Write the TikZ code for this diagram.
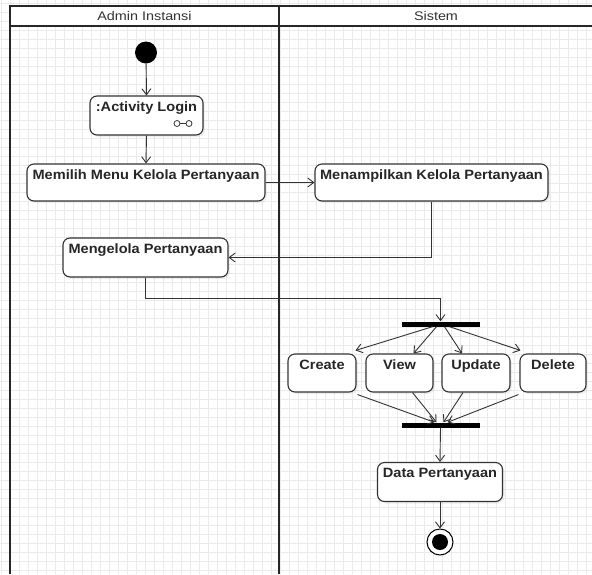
\documentclass[tikz,border=0pt]{standalone}
\usepackage{fontspec}
\setmainfont{Liberation Sans}
\newfontfamily\widebold{Liberation Sans}[FakeStretch=1.08]
\newfontfamily\widehead{Liberation Sans}[FakeStretch=1.15]
\usetikzlibrary{arrows.meta,shadows}

\definecolor{edgecol}{HTML}{333333}
\definecolor{gridcol}{HTML}{EAEAEA}

\tikzset{
  gridline/.style={draw=gridcol, line width=0.6pt},
  frameline/.style={draw=black!85, line width=1.6pt},
  headtext/.style={font=\widehead\fontsize{12.5}{14}\selectfont, text=black!80},
  actbox/.style={draw=edgecol, line width=1.1pt, fill=white, rounded corners=7pt,
    drop shadow={opacity=0.12, shadow xshift=2pt, shadow yshift=-2pt}, inner sep=0pt},
  boxtext/.style={anchor=north, inner sep=0pt, yshift=-6.5pt,
    font=\widebold\fontsize{13.5}{15}\selectfont\bfseries, text=black!85},
  bar/.style={fill=black, draw=none, minimum width=78pt, minimum height=5pt, inner sep=0pt},
  flow/.style={draw=edgecol, line width=0.9pt, -{Straight Barb[length=6pt,width=9pt,line width=0.9pt]}},
}

\begin{document}
\begin{tikzpicture}[x=1pt, y=-1pt]
  \useasboundingbox (0,0) rectangle (592,574);
  \fill[white] (0,0) rectangle (592,574);

  % background grid
  \foreach \i in {0,...,66} {
    \draw[gridline] (\i*9+1,0) -- (\i*9+1,574);
  }
  \foreach \j in {0,...,64} {
    \draw[gridline] (0,\j*9+3) -- (592,\j*9+3);
  }

  % swimlanes
  \fill[white] (10,6) rectangle (592,26);
  \draw[frameline] (10,574) -- (10,6) -- (593,6);
  \draw[frameline] (10,26) -- (593,26);
  \draw[frameline] (279,6) -- (279,574);
  \node[headtext] (laneA) at (144.5,16) {Admin Instansi};
  \node[headtext] (laneB) at (436,16) {Sistem};

  % initial state
  \node[circle, fill=black, minimum size=22pt, inner sep=0pt] (start) at (146,52.5) {};

  % activities
  \node[actbox, minimum width=113pt, minimum height=39pt] (login) at (146.5,115.5) {};
  \node[boxtext] (loginT) at (login.north) {:Activity Login};
  \coordinate (ic1) at (177,123.5);
  \coordinate (ic2) at (189,123.5);
  \draw[edgecol, line width=0.8pt] (ic1) -- (ic2);
  \draw[edgecol, line width=0.8pt, fill=white] (ic1) circle (3pt) (ic2) circle (3pt);

  \node[actbox, minimum width=238pt, minimum height=37pt] (memilih) at (146,182.5) {};
  \node[boxtext] (memilihT) at (memilih.north) {Memilih Menu Kelola Pertanyaan};

  \node[actbox, minimum width=233pt, minimum height=37pt] (tampil) at (431.5,182.5) {};
  \node[boxtext] (tampilT) at (tampil.north) {Menampilkan Kelola Pertanyaan};

  \node[actbox, minimum width=165pt, minimum height=39pt] (kelola) at (145.5,257.5) {};
  \node[boxtext] (kelolaT) at (kelola.north) {Mengelola Pertanyaan};

  \node[bar] (fork) at (440.5,324) {};

  \node[actbox, minimum width=68pt, minimum height=38pt] (create) at (322,373) {};
  \node[boxtext] (createT) at (create.north) {Create};
  \node[actbox, minimum width=67pt, minimum height=38pt] (view) at (399.5,373) {};
  \node[boxtext] (viewT) at (view.north) {View};
  \node[actbox, minimum width=68pt, minimum height=38pt] (update) at (476,373) {};
  \node[boxtext] (updateT) at (update.north) {Update};
  \node[actbox, minimum width=66pt, minimum height=38pt] (delete) at (553,373) {};
  \node[boxtext] (deleteT) at (delete.north) {Delete};

  \node[bar] (join) at (440.5,425) {};

  \node[actbox, minimum width=125pt, minimum height=39pt] (data) at (440,482) {};
  \node[boxtext] (dataT) at (data.north) {Data Pertanyaan};

  % final state
  \node[circle, draw=black, line width=1pt, fill=white, minimum size=26pt, inner sep=0pt] (end) at (440,542) {};
  \node[circle, fill=black, minimum size=16pt, inner sep=0pt] (endDot) at (end.center) {};

  % control flow
  \draw[flow] (start) -- (login.north);
  \draw[flow] (login.south) -- (memilih.north);
  \draw[flow] (memilih.east) -- (tampil.west);
  \coordinate (bend1) at (tampil.south |- kelola.east);
  \draw[flow] (tampil.south) -- (bend1) -- (kelola.east);
  \coordinate (bend2) at ([yshift=-21pt]kelola.south);
  \coordinate (bend3) at (fork.north |- bend2);
  \draw[flow] (kelola.south) -- (bend2) -- (bend3) -- (fork.north);

  \draw[flow] ([xshift=-8pt]fork.south) -- ([xshift=-1pt,yshift=3pt]create.north east);
  \draw[flow] ([xshift=-4pt]fork.south) -- ([xshift=14pt]view.north);
  \draw[flow] ([xshift=4pt]fork.south) -- ([xshift=-14pt]update.north);
  \draw[flow] ([xshift=9pt]fork.south) -- ([xshift=1pt,yshift=3pt]delete.north west);

  \draw[flow] ([xshift=1pt,yshift=-2pt]create.south east) -- ([xshift=-6pt]join.north);
  \draw[flow] ([xshift=13pt]view.south) -- ([xshift=-4pt]join.north);
  \draw[flow] ([xshift=-13pt]update.south) -- ([xshift=3pt]join.north);
  \draw[flow] ([xshift=-1pt,yshift=-2pt]delete.south west) -- ([xshift=7pt]join.north);

  \draw[flow] (join.south) -- (data.north);
  \draw[flow] (data.south) -- (end.north);
\end{tikzpicture}
\end{document}
